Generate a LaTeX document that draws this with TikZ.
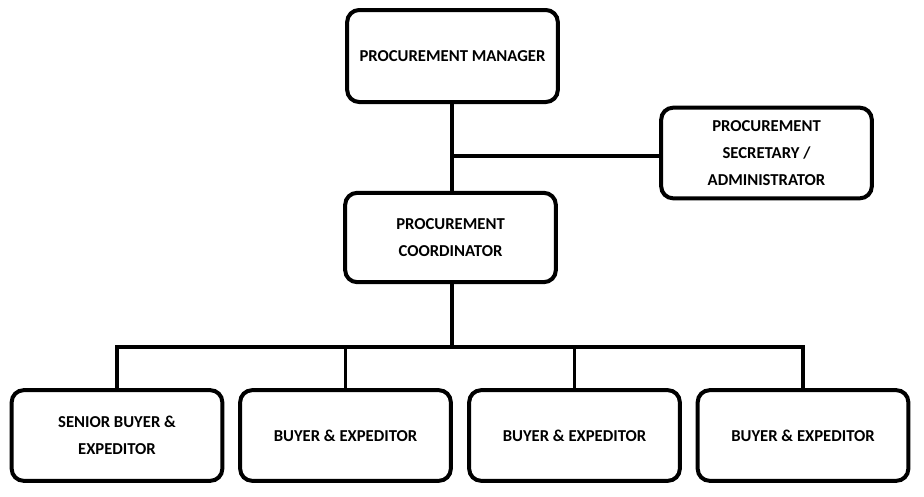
\documentclass[tikz,border=0pt]{standalone}
\usepackage{fontspec}
\setmainfont{Carlito}
\begin{document}
\begin{tikzpicture}[x=0.75pt,y=-0.75pt,
  box/.style={draw=black,line width=3pt,rounded corners=9pt,fill=white,align=center,
    font=\fontsize{12.5}{20}\selectfont\bfseries,inner sep=0pt},
  conn/.style={draw=black,line width=2.8pt}]
\useasboundingbox (0,0) rectangle (924,496);
\node[box,minimum width=158pt,minimum height=69pt] (mgr) at (452.5,56) {PROCUREMENT MANAGER};
\node[box,minimum width=158pt,minimum height=68pt] (sec) at (766.5,153) {PROCUREMENT\\SECRETARY /\\ADMINISTRATOR};
\node[box,minimum width=158pt,minimum height=67pt] (coord) at (450.5,237.5) {PROCUREMENT\\COORDINATOR};
\node[box,minimum width=158pt,minimum height=68pt] (b1) at (117,435.5) {SENIOR BUYER \&\\EXPEDITOR};
\node[box,minimum width=158pt,minimum height=68pt] (b2) at (345.5,435.5) {BUYER \& EXPEDITOR};
\node[box,minimum width=158pt,minimum height=68pt] (b3) at (574.5,435.5) {BUYER \& EXPEDITOR};
\node[box,minimum width=158pt,minimum height=68pt] (b4) at (803,435.5) {BUYER \& EXPEDITOR};
\coordinate (j1) at (452,156);
\coordinate (bus) at (452,347);
\draw[conn] (452,0 |- mgr.south) -- (452,0 |- coord.north);
\draw[conn] (j1) -- (j1 -| sec.west);
\draw[conn] (452,0 |- coord.south) -- (bus);
\draw[conn,line join=miter] (b1.north) -- (b1.north |- bus) -- (b4.north |- bus) -- (b4.north);
\draw[conn] (b2.north) -- (b2.north |- bus);
\draw[conn] (b3.north) -- (b3.north |- bus);
\end{tikzpicture}
\end{document}
